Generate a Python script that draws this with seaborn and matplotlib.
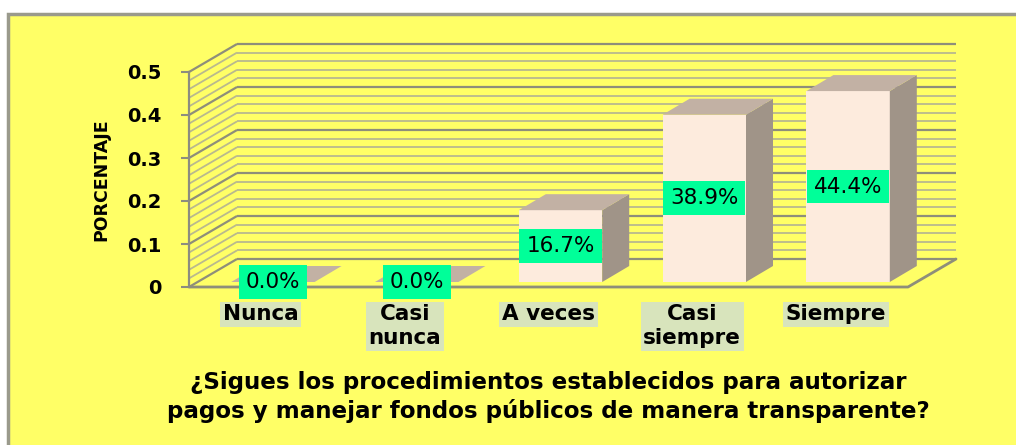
import matplotlib
matplotlib.use("Agg")
import matplotlib.pyplot as plt
from matplotlib.patches import Polygon, Rectangle
import seaborn as sns

# ---- data ----
categories = ["Nunca", "Casi\nnunca", "A veces", "Casi\nsiempre", "Siempre"]
values = [0.0, 0.0, 0.167, 0.389, 0.444]
value_labels = ["0.0%", "0.0%", "16.7%", "38.9%", "44.4%"]
ytick_values = [0, 0.1, 0.2, 0.3, 0.4, 0.5]
ytick_labels = ["0", "0.1", "0.2", "0.3", "0.4", "0.5"]
ylabel = "PORCENTAJE"
title = ("¿Sigues los procedimientos establecidos para autorizar\n"
         "pagos y manejar fondos públicos de manera transparente?")

# ---- style ----
sns.set_style("white")
plt.rcParams["font.family"] = ["DejaVu Sans"]
plt.rcParams["text.color"] = "black"
plt.rcParams["xtick.labelcolor"] = "black"
plt.rcParams["ytick.labelcolor"] = "black"

W, H = 1016, 445
BG = "#FFFF66"
FRONT = "#FDEBDD"
SIDE = "#A09488"
TOP = "#C2B1A4"
GRID_MAJOR = "#8E8E7A"
GRID_MINOR = "#B9B98E"
LABEL_BOX = "#D8E4BC"
VALUE_BOX = "#00FF99"

fig = plt.figure(figsize=(W / 100, H / 100), dpi=100, facecolor="white")
bg = Rectangle((8 / W, -0.1), 1.2, (H - 14) / H + 0.1,
               transform=fig.transFigure, facecolor=BG,
               edgecolor="#9A9A8C", linewidth=2.5, zorder=-10)
fig.patches.append(bg)

ax_left, ax_right, ax_top, ax_bot = 189, 908, 72, 287
ax = fig.add_axes([ax_left / W, (H - ax_bot) / H,
                   (ax_right - ax_left) / W, (ax_bot - ax_top) / H])
ax.set_facecolor("none")
ax.set_zorder(5)

sns.barplot(x=categories, y=values, ax=ax, color=FRONT, saturation=1,
            width=0.58, linewidth=0, zorder=3)
ax.set_xlim(-0.5, 4.5)
ax.set_ylim(0, 0.5)

# pixel -> data conversions
px_x = 5.0 / (ax_right - ax_left)
px_y = 0.5 / (ax_bot - ax_top)

wall_dx, wall_dy = 48 * px_x, 28 * px_y
shift_dx, shift_dy = 12 * px_x, 5 * px_y
depth_dx, depth_dy = 27 * px_x, 16 * px_y

# back wall & left wall grid lines
minor_levels = [i * 0.02 for i in range(26)]
for i, lv in enumerate(minor_levels):
    major = (i % 5 == 0)
    c = GRID_MAJOR if major else GRID_MINOR
    lw = 1.6 if major else 1.3
    ax.plot([-0.5 + wall_dx, 4.5 + wall_dx], [lv + wall_dy, lv + wall_dy],
            color=c, lw=lw, clip_on=False, zorder=1, solid_capstyle="butt")
    ax.plot([-0.5, -0.5 + wall_dx], [lv, lv + wall_dy],
            color=c, lw=lw, clip_on=False, zorder=1, solid_capstyle="butt")

# floor outline
ax.plot([-0.5, 4.5, 4.5 + wall_dx], [0, 0, wall_dy], color=GRID_MAJOR,
        lw=2, clip_on=False, zorder=2)

# 3D bars from seaborn's patches
for p, lab in zip(ax.patches, value_labels):
    p.set_x(p.get_x() + shift_dx)
    p.set_y(p.get_y() + shift_dy)
    x0, x1 = p.get_x(), p.get_x() + p.get_width()
    y0, y1 = p.get_y(), p.get_y() + p.get_height()
    side = Polygon([(x1, y0), (x1 + depth_dx, y0 + depth_dy),
                    (x1 + depth_dx, y1 + depth_dy), (x1, y1)],
                   closed=True, facecolor=SIDE, edgecolor="none",
                   zorder=3, clip_on=False)
    top = Polygon([(x0, y1), (x1, y1), (x1 + depth_dx, y1 + depth_dy),
                   (x0 + depth_dx, y1 + depth_dy)],
                  closed=True, facecolor=TOP, edgecolor="none",
                  zorder=3, clip_on=False)
    ax.add_patch(side)
    ax.add_patch(top)
    ax.text((x0 + x1) / 2, (y0 + y1) / 2, lab, ha="center", va="center",
            fontsize=15.5, color="black", zorder=6, clip_on=False,
            bbox=dict(boxstyle="square,pad=0.32", facecolor=VALUE_BOX,
                      edgecolor="none"))

# axes styling
for s in ["top", "right", "bottom"]:
    ax.spines[s].set_visible(False)
ax.spines["left"].set_color("#8C8C80")
ax.spines["left"].set_linewidth(1.6)
ax.spines["left"].set_zorder(2)

ax.set_yticks(ytick_values)
ax.set_yticklabels(ytick_labels, fontsize=14, fontweight="bold")
ax.tick_params(axis="y", length=6, width=1.5, color="#8C8C80",
               direction="out", pad=14, left=True)
ax.set_xticks(range(len(categories)))
ax.set_xticklabels(categories, fontsize=15.5, fontweight="bold",
                   linespacing=1.25)
ax.tick_params(axis="x", length=0, pad=12.5)
for t in ax.get_xticklabels():
    t.set_bbox(dict(boxstyle="square,pad=0.12", facecolor=LABEL_BOX,
                    edgecolor="none"))
    t.set_verticalalignment("top")
ax.set_xlabel("")
ax.set_ylabel("")

fig.text(101 / W, (H - 180) / H, ylabel, rotation=90, ha="center",
         va="center", fontsize=12.5, fontweight="bold",
         family=["DejaVu Sans"])

fig.text(548 / W, (H - 397) / H, title, ha="center", va="center",
         fontsize=16.6, fontweight="bold", linespacing=1.22)

fig.savefig("out.png", dpi=100, facecolor="white")
